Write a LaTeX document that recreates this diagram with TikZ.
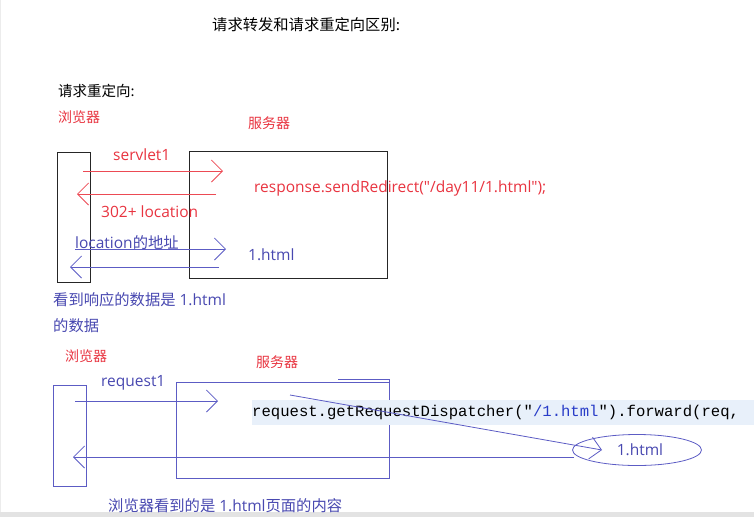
\documentclass[tikz,border=0pt]{standalone}
\usepackage{fontspec}
\setmainfont{Open Sans}[Ligatures=TeXOff]
\newfontfamily\cjk{Noto Sans CJK SC}
\setmonofont{Liberation Mono}
\usetikzlibrary{arrows.meta,shapes.geometric}
\newcommand{\zh}[1]{{\cjk\fontsize{14}{16}\selectfont #1}}
\newcommand{\zhb}[1]{{\cjk\fontsize{15.3}{17}\selectfont #1}}
\definecolor{redtxt}{RGB}{232,52,64}
\definecolor{redln}{RGB}{236,74,84}
\definecolor{bluetxt}{RGB}{72,72,176}
\definecolor{blueln}{RGB}{92,92,196}
\definecolor{codebg}{RGB}{232,240,250}
\definecolor{codeblue}{RGB}{40,60,200}
\tikzset{
  lbl/.style={anchor=west, inner sep=0pt, font=\fontsize{15.5}{17}\selectfont},
  redlbl/.style={lbl, text=redtxt},
  bluelbl/.style={lbl, text=bluetxt},
  blackbox/.style={draw=black!85, line width=0.9pt, anchor=north west, inner sep=0pt},
  bluebox/.style={draw=blueln, line width=0.9pt, anchor=north west, inner sep=0pt},
  barb/.style={line width=0.8pt, -{Straight Barb[length=11pt,width=22pt]}},
  redarrow/.style={barb, draw=redln},
  bluearrow/.style={barb, draw=blueln},
}
\begin{document}
\begin{tikzpicture}[x=1pt, y=-1pt]
  \useasboundingbox (0,0) rectangle (754,517);
  \fill[gray!22] (0,512) rectangle (754,517);
  \draw[gray!15, line width=1pt] (0.5,0) -- (0.5,512);

  % titles
  \node[lbl, font=\cjk\fontsize{15.3}{17}\selectfont] (title) at (212,25) {请求转发和请求重定向区别:};
  \node[lbl, font=\cjk\fontsize{14.5}{16}\selectfont] (redirect) at (58,91) {请求重定向:};

  % ---- redirect ----
  \node[redlbl] (brlabA) at (58,117) {\zh{浏览器}};
  \node[redlbl] (svlabA) at (248,123) {\zh{服务器}};
  \node[blackbox, minimum width=33pt, minimum height=130pt] (brA) at (57,152) {};
  \node[blackbox, minimum width=198pt, minimum height=127pt] (svA) at (189,151) {};

  \coordinate (a1s) at (83,171);  \coordinate (a1e) at (223,171);
  \coordinate (a2s) at (216,194); \coordinate (a2e) at (77,194);
  \coordinate (a3s) at (75,249);  \coordinate (a3e) at (226,249);
  \coordinate (a4s) at (219,267); \coordinate (a4e) at (70,267);
  \draw[redarrow] (a1s) -- (a1e);
  \draw[redarrow] (a2s) -- (a2e);
  \draw[bluearrow] (a3s) -- (a3e);
  \draw[bluearrow] (a4s) -- (a4e);

  \node[redlbl] (servlet) at (113,155) {servlet1};
  \node[redlbl] (loc) at (101,212) {302+\ location};
  \node[redlbl] (sendred) at (254,188) {response.sendRedirect("/day11/1.html");};
  \node[bluelbl] (locaddr) at (75,243) {location\zhb{的地址}};
  \node[bluelbl] (htmlA) at (248,255) {1.html};
  \node[bluelbl] (seeA) at (53,300) {\zhb{看到响应的数据是} 1.html};
  \node[bluelbl] (seeB) at (53,326) {\zhb{的数据}};

  % ---- forward ----
  \node[redlbl] (brlabB) at (65,356) {\zh{浏览器}};
  \node[redlbl] (svlabB) at (256,362) {\zh{服务器}};
  \node[bluelbl] (req) at (101,383) {request1};
  \node[bluebox, minimum width=33pt, minimum height=101pt] (brB) at (53,385) {};
  \node[bluebox, minimum width=213pt, minimum height=96pt] (svB) at (176,382) {};
  \draw[blueln, line width=0.9pt] (338,379.5) -- (389,379.5) -- (389,382);

  \node[fill=codebg, anchor=west, inner sep=0pt, minimum height=25pt,
        text width=502pt, font=\ttfamily\fontsize{15.6}{17}\selectfont]
        (code) at (252,412.5) {request.getRequestDispatcher("\textcolor{codeblue}{/1.html}").forward(req,};

  \node[draw=blueln, line width=0.8pt, ellipse, minimum width=129pt, minimum height=31pt,
        inner sep=0pt, text=bluetxt, font=\fontsize{15.5}{17}\selectfont] (page) at (637,450) {\hspace{6pt}1.html};

  \coordinate (f1s) at (75,401);  \coordinate (f1e) at (218,401);
  \coordinate (f2s) at (290,395); \coordinate (f2e) at (602,450);
  \coordinate (f3s) at (574,457); \coordinate (f3e) at (73,457);
  \draw[bluearrow] (f1s) -- (f1e);
  \draw[bluearrow] (f2s) -- (f2e);
  \draw[bluearrow] (f3s) -- (f3e);

  \node[bluelbl] (seeC) at (108,506) {\zhb{浏览器看到的是} 1.html\zhb{页面的内容}};
\end{tikzpicture}
\end{document}
